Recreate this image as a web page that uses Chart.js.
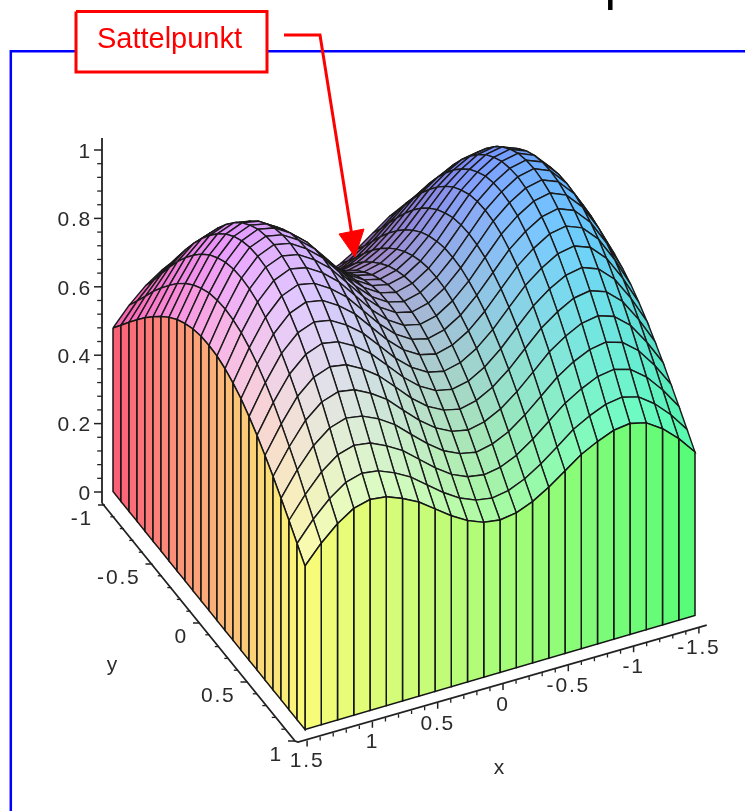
<!DOCTYPE html>
<html>
<head>
<meta charset="utf-8">
<title>Sattelpunkt</title>
<script src="https://cdn.jsdelivr.net/npm/chart.js@4"></script>
<style>
  body { margin: 0; background: #fff; }
  canvas { display: block; }
</style>
</head>
<body>
<canvas id="surface" width="745" height="811"></canvas>
<script>
// grid of the surface
const xValues = [1.5, 1.375, 1.25, 1.125, 1, 0.875, 0.75, 0.625, 0.5, 0.375, 0.25, 0.125, 0, -0.125, -0.25, -0.375, -0.5, -0.625, -0.75, -0.875, -1, -1.125, -1.25, -1.375, -1.5];
const yValues = [-1, -0.917, -0.833, -0.75, -0.667, -0.583, -0.5, -0.417, -0.333, -0.25, -0.167, -0.083, 0, 0.083, 0.167, 0.25, 0.333, 0.417, 0.5, 0.583, 0.667, 0.75, 0.833, 0.917, 1];

// heights, one row per y, one column per x
const zRows = [
  [.478,.531,.574,.605,.617,.611,.592,.568,.534,.500,.472,.453,.446,.453,.472,.500,.534,.568,.592,.611,.617,.605,.574,.531,.478],
  [.515,.572,.618,.652,.665,.658,.638,.612,.575,.539,.509,.489,.481,.489,.509,.539,.575,.612,.638,.658,.665,.652,.618,.572,.515],
  [.553,.615,.667,.703,.717,.710,.688,.660,.621,.582,.549,.528,.520,.528,.549,.582,.621,.660,.688,.710,.717,.703,.667,.615,.553],
  [.589,.658,.715,.753,.768,.760,.738,.707,.665,.624,.589,.567,.557,.567,.589,.624,.665,.707,.738,.760,.768,.753,.715,.658,.589],
  [.624,.697,.760,.800,.816,.808,.784,.752,.707,.663,.627,.603,.593,.603,.627,.663,.707,.752,.784,.808,.816,.800,.760,.697,.624],
  [.656,.734,.801,.843,.860,.852,.826,.792,.746,.699,.661,.636,.625,.636,.661,.699,.746,.792,.826,.852,.860,.843,.801,.734,.656],
  [.686,.768,.837,.881,.899,.890,.864,.828,.780,.731,.691,.664,.654,.664,.691,.731,.780,.828,.864,.890,.899,.881,.837,.768,.686],
  [.712,.797,.869,.915,.933,.924,.896,.859,.809,.758,.717,.689,.678,.689,.717,.758,.809,.859,.896,.924,.933,.915,.869,.797,.712],
  [.735,.822,.896,.943,.962,.953,.924,.886,.834,.782,.739,.711,.699,.711,.739,.782,.834,.886,.924,.953,.962,.943,.896,.822,.735],
  [.752,.841,.916,.965,.984,.974,.945,.906,.853,.800,.756,.727,.715,.727,.756,.800,.853,.906,.945,.974,.984,.965,.916,.841,.752],
  [.765,.856,.932,.981,1.001,.991,.962,.922,.868,.813,.769,.739,.728,.739,.769,.813,.868,.922,.962,.991,1.001,.981,.932,.856,.765],
  [.773,.864,.941,.991,1.010,1.000,.971,.931,.876,.822,.777,.747,.735,.747,.777,.822,.876,.931,.971,1.000,1.010,.991,.941,.864,.773],
  [.775,.867,.944,.994,1.014,1.004,.974,.934,.879,.824,.779,.749,.737,.749,.779,.824,.879,.934,.974,1.004,1.014,.994,.944,.867,.775],
  [.773,.864,.941,.991,1.010,1.000,.971,.931,.876,.822,.777,.747,.735,.747,.777,.822,.876,.931,.971,1.000,1.010,.991,.941,.864,.773],
  [.765,.856,.932,.981,1.001,.991,.962,.922,.868,.813,.769,.739,.728,.739,.769,.813,.868,.922,.962,.991,1.001,.981,.932,.856,.765],
  [.752,.841,.916,.965,.984,.974,.945,.906,.853,.800,.756,.727,.715,.727,.756,.800,.853,.906,.945,.974,.984,.965,.916,.841,.752],
  [.735,.822,.896,.943,.962,.953,.924,.886,.834,.782,.739,.711,.699,.711,.739,.782,.834,.886,.924,.953,.962,.943,.896,.822,.735],
  [.712,.797,.869,.915,.933,.924,.896,.859,.809,.758,.717,.689,.678,.689,.717,.758,.809,.859,.896,.924,.933,.915,.869,.797,.712],
  [.686,.768,.837,.881,.899,.890,.864,.828,.780,.731,.691,.664,.654,.664,.691,.731,.780,.828,.864,.890,.899,.881,.837,.768,.686],
  [.656,.734,.801,.843,.860,.852,.826,.792,.746,.699,.661,.636,.625,.636,.661,.699,.746,.792,.826,.852,.860,.843,.801,.734,.656],
  [.624,.697,.760,.800,.816,.808,.784,.752,.707,.663,.627,.603,.593,.603,.627,.663,.707,.752,.784,.808,.816,.800,.760,.697,.624],
  [.589,.658,.715,.753,.768,.760,.738,.707,.665,.624,.589,.567,.557,.567,.589,.624,.665,.707,.738,.760,.768,.753,.715,.658,.589],
  [.553,.615,.667,.703,.717,.710,.688,.660,.621,.582,.549,.528,.520,.528,.549,.582,.621,.660,.688,.710,.717,.703,.667,.615,.553],
  [.515,.572,.618,.652,.665,.658,.638,.612,.575,.539,.509,.489,.481,.489,.509,.539,.575,.612,.638,.658,.665,.652,.618,.572,.515],
  [.478,.531,.574,.605,.617,.611,.592,.568,.534,.500,.472,.453,.446,.453,.472,.500,.534,.568,.592,.611,.617,.605,.574,.531,.478]
];

const xTicks = [1.5, 1, 0.5, 0, -0.5, -1, -1.5];
const yTicks = [-1, -0.5, 0, 0.5, 1];
const zTicks = [0, 0.2, 0.4, 0.6, 0.8, 1];

// view of the plot box (orthographic)
function project(x, y, z) {
  return { x: 404 - 130 * x + 96 * y, y: 553.5 + 38 * x + 119 * y - 342 * z };
}

// the axes sit a little outside of the surface
function xAxisPoint(v) {
  return { x: 503 - 130.6 * v, y: 684 + 37.7 * v };
}
function yAxisPoint(v) {
  return { x: 200 + 95 * v, y: 623 + 118 * v };
}
function zAxisPoint(v) {
  return { x: 102, y: 492 - 342 * v };
}

function clampByte(v) {
  return Math.max(0, Math.min(255, Math.round(v)));
}

function cellColor(x, y, z) {
  const r = clampByte(168 + 55 * x);
  const g = clampByte(175 + 78 * y);
  const b = clampByte(78 + 185 * z);
  return `rgb(${r},${g},${b})`;
}

function skirtColor(x, y) {
  const r = clampByte(168 + 55 * x);
  const g = clampByte(172 + 80 * y);
  return `rgb(${r},${g},120)`;
}

function polygon(points, fillColor, lineColor, lineWidth) {
  return {
    data: points,
    showLine: true,
    fill: fillColor ? "shape" : false,
    backgroundColor: fillColor || "transparent",
    borderColor: lineColor,
    borderWidth: lineWidth,
    pointRadius: 0,
    borderJoinStyle: "miter",
    tension: 0,
    clip: false
  };
}

function closed(points) {
  return [...points, points[0]];
}

// listed in paint order, far to near
const layers = [];

// blue frame
layers.push(polygon([{ x: 10.8, y: 811 }, { x: 10.8, y: 51.3 }, { x: 745, y: 51.3 }], null, "#0000ff", 2.5));

// black stub at the top
layers.push(polygon([{ x: 610.3, y: 0 }, { x: 610.3, y: 10 }], null, "#000000", 4.5));

// surface cells
for (let i = xValues.length - 2; i >= 0; i--) {
  for (let j = 0; j < yValues.length - 1; j++) {
    const corners = [[i, j], [i + 1, j], [i + 1, j + 1], [i, j + 1]];
    const pts = corners.map(([a, b]) => project(xValues[a], yValues[b], zRows[b][a]));
    const mx = (xValues[i] + xValues[i + 1]) / 2;
    const my = (yValues[j] + yValues[j + 1]) / 2;
    const mz = corners.reduce((s, [a, b]) => s + zRows[b][a], 0) / 4;
    layers.push(polygon(closed(pts), cellColor(mx, my, mz), "#1a1a1a", 1.4));
  }
}

// side wall along y = 1
const lastY = yValues.length - 1;
for (let i = xValues.length - 2; i >= 0; i--) {
  const pts = [
    project(xValues[i], 1, zRows[lastY][i]),
    project(xValues[i + 1], 1, zRows[lastY][i + 1]),
    project(xValues[i + 1], 1, 0),
    project(xValues[i], 1, 0)
  ];
  layers.push(polygon(closed(pts), skirtColor((xValues[i] + xValues[i + 1]) / 2, 1), "#151515", 1.5));
}

// side wall along x = 1.5
for (let j = 0; j < lastY; j++) {
  const pts = [
    project(1.5, yValues[j], zRows[j][0]),
    project(1.5, yValues[j + 1], zRows[j + 1][0]),
    project(1.5, yValues[j + 1], 0),
    project(1.5, yValues[j], 0)
  ];
  layers.push(polygon(closed(pts), skirtColor(1.5, (yValues[j] + yValues[j + 1]) / 2), "#151515", 1.5));
}

// axis lines
layers.push(polygon([zAxisPoint(1.035), { x: 102, y: 503 }], null, "#222222", 1.8));
layers.push(polygon([{ x: 102, y: 503 }, yAxisPoint(1), { x: 298, y: 742 }, xAxisPoint(-1.56)], null, "#222222", 1.8));

// minor ticks are every fifth of a major step
function addTicks(ticks, pointAt, dx, dy) {
  const step = Math.abs(ticks[1] - ticks[0]) / 5;
  const sign = ticks[1] > ticks[0] ? 1 : -1;
  ticks.forEach((v, n) => {
    const p = pointAt(v);
    layers.push(polygon([p, { x: p.x + dx, y: p.y + dy }], null, "#222222", 1.5));
    if (n === ticks.length - 1) return;
    for (let k = 1; k < 5; k++) {
      const q = pointAt(v + sign * k * step);
      layers.push(polygon([q, { x: q.x + dx * 0.6, y: q.y + dy * 0.6 }], null, "#222222", 1.3));
    }
  });
}
addTicks(zTicks, zAxisPoint, -8, 0);
addTicks(yTicks, yAxisPoint, -7, 0);
addTicks(xTicks, xAxisPoint, 0, 6);

// annotation: label box, leader line and arrow head
layers.push(polygon(closed([{ x: 76, y: 11.5 }, { x: 267, y: 11.5 }, { x: 267, y: 72 }, { x: 76, y: 72 }]), "#ffffff", "#ff0000", 3));
layers.push(polygon([{ x: 284, y: 35 }, { x: 320, y: 35 }, { x: 352, y: 236 }], null, "#ff0000", 3));
layers.push(polygon(closed([{ x: 339, y: 234 }, { x: 364, y: 229 }, { x: 355, y: 257 }]), "#ff0000", "#ff0000", 1));

const tickText = {
  id: "tickText",
  afterDraw(chart) {
    const { ctx, scales } = chart;
    const put = (text, px, py, align) => {
      ctx.textAlign = align;
      ctx.fillText(text, scales.x.getPixelForValue(px), scales.y.getPixelForValue(py));
    };
    ctx.save();
    ctx.textBaseline = "middle";
    ctx.fillStyle = "#2a2a2a";
    ctx.font = "21px 'Liberation Sans'";
    ctx.letterSpacing = "1.8px";
    zTicks.forEach(v => {
      const p = zAxisPoint(v);
      put(String(v), 92, p.y + 2, "right");
    });
    yTicks.forEach(v => {
      const p = yAxisPoint(v);
      put(String(v), p.x - 12, p.y + 14, "right");
    });
    xTicks.forEach(v => {
      const p = xAxisPoint(v);
      put(String(v), p.x, p.y + 21, "center");
    });
    put("y", 113, 665, "center");
    put("x", 500, 768, "center");
    ctx.letterSpacing = "0px";
    ctx.fillStyle = "#ff0000";
    ctx.font = "29px 'Liberation Sans'";
    put("Sattelpunkt", 169.5, 40, "center");
    ctx.restore();
  }
};

new Chart(document.getElementById("surface"), {
  type: "scatter",
  data: { datasets: layers.reverse() },
  options: {
    responsive: false,
    animation: false,
    events: [],
    layout: { padding: 0 },
    plugins: { legend: { display: false }, tooltip: { enabled: false } },
    scales: {
      x: { type: "linear", min: 0, max: 745, display: false },
      y: { type: "linear", min: 0, max: 811, reverse: true, display: false }
    }
  },
  plugins: [tickText]
});
</script>
</body>
</html>
